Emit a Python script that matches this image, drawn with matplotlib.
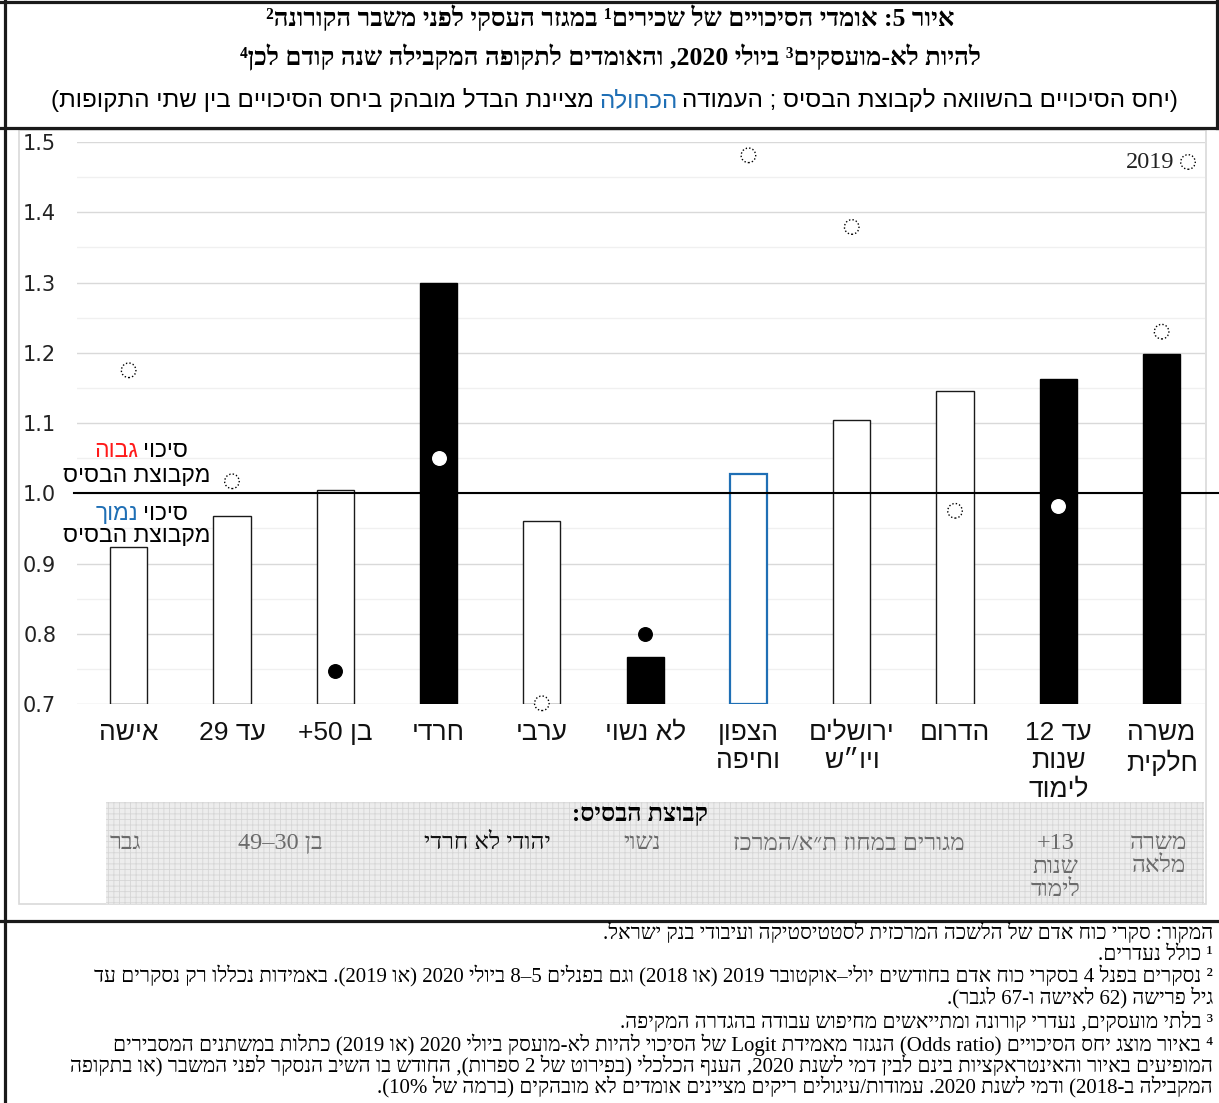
import numpy as np
import matplotlib.pyplot as plt
from matplotlib.patches import Rectangle
from matplotlib.lines import Line2D

# odds ratios (base group = 1.0)
categories = ['אישה', 'עד 29', 'בן 50+', 'חרדי', 'ערבי', 'לא נשוי',
              'הצפון\nוחיפה', 'ירושלים\nויו״ש', 'הדרום',
              'עד 12\nשנות\nלימוד', 'משרה\nחלקית']
odds_2020 = [0.923, 0.968, 1.005, 1.299, 0.960, 0.767, 1.028, 1.104, 1.146, 1.162, 1.198]
signif_2020 = [False, False, False, True, False, True, False, False, False, True, True]
changed = [False, False, False, False, False, False, True, False, False, False, False]
odds_2019 = [1.175, 1.017, 0.747, 1.050, 0.701, 0.799, 1.481, 1.379, 0.975, 0.982, 1.230]
signif_2019 = [False, False, True, True, False, True, False, False, False, True, False]

base_groups = ['גבר', 'בן 30–49', 'יהודי לא חרדי', 'נשוי', 'מגורים במחוז ת״א/המרכז',
               '13+\nשנות\nלימוד', 'משרה\nמלאה']
base_cover = [(0, 0), (1, 2), (3, 4), (5, 5), (6, 8), (9, 9), (10, 10)]

title1 = 'איור 5: אומדי הסיכויים של שכירים¹ במגזר העסקי לפני משבר הקורונה²'
title2 = 'להיות לא-מועסקים³ ביולי 2020, והאומדים לתקופה המקבילה שנה קודם לכן⁴'
subtitle = [('(יחס הסיכויים בהשוואה לקבוצת הבסיס ; העמודה', 'black'),
            ('הכחולה', '#1f6fb5'),
            ('מציינת הבדל מובהק ביחס הסיכויים בין שתי התקופות)', 'black')]
notes = ['המקור: סקרי כוח אדם של הלשכה המרכזית לסטטיסטיקה ועיבודי בנק ישראל.',
         '¹ כולל נעדרים.',
         '² נסקרים בפנל 4 בסקרי כוח אדם בחודשים יולי–אוקטובר 2019 (או 2018) וגם בפנלים 5–8 ביולי 2020 (או 2019). באמידות נכללו רק נסקרים עד',
         'גיל פרישה (62 לאישה ו-67 לגבר).',
         '³ בלתי מועסקים, נעדרי קורונה ומתייאשים מחיפוש עבודה בהגדרה המקיפה.',
         '⁴ באיור מוצג יחס הסיכויים (Odds ratio) הנגזר מאמידת Logit של הסיכוי להיות לא-מועסק ביולי 2020 (או 2019) כתלות במשתנים המסבירים',
         'המופיעים באיור והאינטראקציות בינם לבין דמי לשנת 2020, הענף הכלכלי (בפירוט של 2 ספרות), החודש בו השיב הנסקר לפני המשבר (או בתקופה',
         'המקבילה ב-2018) ודמי לשנת 2020. עמודות/עיגולים ריקים מציינים אומדים לא מובהקים (ברמה של 10%).']


def vis(s):
    # rough bidi: logical hebrew -> visual order for an RTL paragraph
    out = []
    for line in s.split('\n'):
        n = len(line)
        t = []
        for c in line:
            if '\u0590' <= c <= '\u05ff':
                t.append('R')
            elif c.isdigit():
                t.append('EN')
            elif c.isalpha():
                t.append('L')
            elif c == '%':
                t.append('ET')
            elif c in ',.:/':
                t.append('CS')
            else:
                t.append('N')
        for i in range(1, n - 1):
            if t[i] == 'CS' and t[i - 1] == 'EN' and t[i + 1] == 'EN':
                t[i] = 'EN'
        for i in range(n):
            if t[i] == 'ET' and ((i > 0 and t[i - 1] == 'EN') or (i < n - 1 and t[i + 1] == 'EN')):
                t[i] = 'EN'
        t = ['N' if k in ('CS', 'ET') else k for k in t]
        last = 'R'
        for i in range(n):
            if t[i] in ('R', 'L'):
                last = t[i]
            elif t[i] == 'EN' and last == 'L':
                t[i] = 'L'
        i = 0
        while i < n:
            if t[i] == 'N':
                j = i
                while j < n and t[j] == 'N':
                    j += 1
                before = 'R' if i == 0 else ('R' if t[i - 1] == 'EN' else t[i - 1])
                after = 'R' if j == n else ('R' if t[j] == 'EN' else t[j])
                d = before if before == after else 'R'
                for k in range(i, j):
                    t[k] = d
                i = j
            else:
                i += 1
        lv = [2 if k in ('L', 'EN') else 1 for k in t]
        mirror = {'(': ')', ')': '('}
        chars = [mirror.get(c, c) if l == 1 else c for c, l in zip(line, lv)]
        i = 0
        while i < n:
            if lv[i] == 2:
                j = i
                while j < n and lv[j] == 2:
                    j += 1
                chars[i:j] = chars[i:j][::-1]
                i = j
            else:
                i += 1
        out.append(''.join(chars[::-1]))
    return '\n'.join(out)


W, H = 1219, 1103
def fx(x): return x / W
def fy(y): return 1 - y / H

SANS = ['Liberation Sans', 'DejaVu Sans']
SERIF = ['Liberation Serif', 'DejaVu Serif', 'DejaVu Sans']
DOTTED = (0, (1, 1.5))

fig = plt.figure(figsize=(W / 100, H / 100), dpi=100)
rend = fig.canvas.get_renderer()

ax = fig.add_axes([fx(77), fy(704), (1205 - 77) / W, (704 - 142) / H])
x = np.arange(len(categories))
for i in x:
    if signif_2020[i]:
        fc, ec, lw = 'black', 'black', 1.0
    elif changed[i]:
        fc, ec, lw = 'white', '#1f6fb5', 1.6
    else:
        fc, ec, lw = 'white', '#1a1a1a', 1.0
    ax.bar(i, odds_2020[i] - 0.7, bottom=0.7, width=0.36, color=fc, edgecolor=ec, linewidth=lw, zorder=2)

for i in x:
    inside = signif_2020[i] and odds_2019[i] < odds_2020[i]
    if signif_2019[i]:
        c = 'white' if inside else 'black'
        ax.scatter(i, odds_2019[i], s=95, color=c, edgecolor=c, zorder=4, clip_on=False)
    else:
        ax.scatter(i, odds_2019[i], s=110, facecolor='white', edgecolor='black', linewidth=1.0,
                   linestyle=DOTTED, zorder=4, clip_on=False)

ax.axhline(1.0, xmin=-0.003, xmax=1.013, color='black', lw=1.5, clip_on=False, zorder=3)
ax.set_ylim(0.7, 1.5)
ax.set_xlim(-0.5, 10.42)
ax.set_yticks(np.arange(0.7, 1.51, 0.1))
ax.set_yticks(np.arange(0.75, 1.5, 0.1), minor=True)
ax.set_yticklabels(['%.1f' % v for v in np.arange(0.7, 1.51, 0.1)], fontsize=15,
                   family='DejaVu Sans', color='#222222')
ax.grid(axis='y', which='major', color='#d9d9d9', lw=1.0, zorder=0)
ax.grid(axis='y', which='minor', color='#f0f0f0', lw=1.0, zorder=0)
ax.tick_params(axis='y', which='both', length=0, pad=15)
ax.set_xticks(x)
ax.set_xticklabels([vis(c) for c in categories], fontsize=19, family=SANS, color='#111111',
                   va='top', linespacing=1.25)
ax.tick_params(axis='x', length=0, pad=12)
for s in ax.spines.values():
    s.set_visible(False)

# legend for the 2019 circles
ax.scatter([fx(1188)], [fy(162)], s=110, facecolor='white', edgecolor='black', linewidth=1.0,
           linestyle=DOTTED, transform=fig.transFigure, clip_on=False, zorder=5)
fig.text(fx(1174), fy(162), '2019', ha='right', va='center', fontsize=17.5, family=SERIF, color='#222222')

# frames
fig.add_artist(Rectangle((fx(19), fy(904)), (1206 - 19) / W, (904 - 130) / H, transform=fig.transFigure,
                         facecolor='none', edgecolor='#d9d9d9', lw=1.2, zorder=0))
for (x0, y0, x1, y1) in [(0, 1.5, W, 1.5), (4.5, 0, 4.5, H), (1217, 0, 1217, 128), (0, 128, W, 128), (0, 921, W, 921)]:
    fig.add_artist(Line2D([fx(x0), fx(x1)], [fy(y0), fy(y1)], color='#1a1a1a', lw=2.3))

# base group box
plt.rcParams['hatch.linewidth'] = 0.6
fig.add_artist(Rectangle((fx(106), fy(904)), (1204 - 106) / W, (904 - 802) / H, transform=fig.transFigure,
                         facecolor='#ededed', edgecolor='#d6d6d6', hatch='+++', lw=0, zorder=0))
fig.text(fx(640), fy(814), vis('קבוצת הבסיס:'), ha='center', va='center', fontsize=18, weight='bold', family=SERIF)
for g, (a, b) in zip(base_groups, base_cover):
    xc = ax.transData.transform(((a + b) / 2, 1.0))[0] - 3
    col = '#111111' if g == 'יהודי לא חרדי' else '#6b6b6b'
    fig.text(xc / W, fy(833), vis(g), ha='center', va='top', fontsize=17.5, family=SERIF, color=col,
             linespacing=1.15)


def rtl_parts(xr, y, parts, center=False, gap=5, **kw):
    if center:
        tmp = fig.text(0, 0, vis(' '.join(p for p, _ in parts)), **kw)
        xr = xr + tmp.get_window_extent(rend).width / 2
        tmp.remove()
    for txt, col in parts:
        t = fig.text(xr / W, fy(y), vis(txt), ha='right', va='baseline', color=col, **kw)
        xr = t.get_window_extent(rend).x0 - gap


# titles
fig.text(fx(610), fy(18), vis(title1), ha='center', va='center', fontsize=18.5, weight='bold', family=SERIF)
fig.text(fx(610), fy(57), vis(title2), ha='center', va='center', fontsize=18.5, weight='bold', family=SERIF)
rtl_parts(613, 107, subtitle, center=True, fontsize=17.5, family=SANS)

# high / low annotations
rtl_parts(188, 457, [('סיכוי', 'black'), ('גבוה', '#ff1a1a')], fontsize=16.5, family=SANS)
fig.text(fx(210), fy(476), vis('מקבוצת הבסיס'), ha='right', va='center', fontsize=16.5, family=SANS)
rtl_parts(188, 520, [('סיכוי', 'black'), ('נמוך', '#1f6fb5')], fontsize=16.5, family=SANS)
fig.text(fx(210), fy(536), vis('מקבוצת הבסיס'), ha='right', va='center', fontsize=16.5, family=SANS)

# footnotes
note_y = [933, 955, 976, 998, 1022, 1045, 1066, 1087]
for line, yy in zip(notes, note_y):
    fig.text(fx(1213), fy(yy), vis(line), ha='right', va='center', fontsize=15, family=SERIF)

fig.savefig('out.png', dpi=100)
